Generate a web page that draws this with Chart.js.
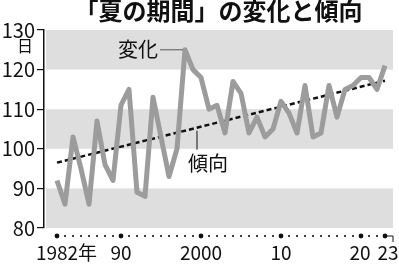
<!DOCTYPE html>
<html>
<head>
<meta charset="utf-8">
<script src="https://cdn.jsdelivr.net/npm/chart.js@4"></script>
<style>
  body { margin: 0; background: #fff; }
  #wrap { width: 399px; height: 264px; position: relative; }
</style>
</head>
<body>
<div id="wrap"><canvas id="summerChart"></canvas></div>
<script>
// 「夏の期間」の変化と傾向 (days)
const years = [1982, 1983, 1984, 1985, 1986, 1987, 1988, 1989, 1990, 1991,
  1992, 1993, 1994, 1995, 1996, 1997, 1998, 1999, 2000, 2001,
  2002, 2003, 2004, 2005, 2006, 2007, 2008, 2009, 2010, 2011,
  2012, 2013, 2014, 2015, 2016, 2017, 2018, 2019, 2020, 2021,
  2022, 2023];
const summerDays = [92, 86, 103, 95, 86, 107, 96, 92, 111, 115,
  89, 88, 113, 103, 93, 100, 125, 120, 118, 110,
  111, 104, 117, 114, 104, 108, 103, 105, 112, 109,
  104, 116, 103, 104, 116, 108, 115, 116, 118, 118,
  115, 121];

// trend line end points
const trendYears = [1982, 2023];
const trendDays = [96.5, 117.2];

const xTickYears = [1982, 1990, 2000, 2010, 2020, 2023];
const xTickLabels = ['1982', '90', '2000', '10', '20', '23'];
const xTickSuffix = ['年', '', '', '', '', ''];
const bandRanges = [[80, 90], [100, 110], [120, 130]];

const FONT = "'Noto Sans CJK JP', 'Noto Sans', sans-serif";

const decor = {
  id: 'decor',
  beforeDraw(chart) {
    const { ctx, chartArea, scales: { y } } = chart;
    ctx.save();
    ctx.fillStyle = '#dedede';
    bandRanges.forEach(r => {
      const top = y.getPixelForValue(r[1]);
      const bot = y.getPixelForValue(r[0]);
      ctx.fillRect(chartArea.left + 2, top, chartArea.right - chartArea.left - 2, bot - top);
    });
    ctx.restore();
  },
  afterDraw(chart) {
    const { ctx, chartArea, scales: { x, y } } = chart;
    ctx.save();

    // title
    ctx.fillStyle = '#111';
    ctx.font = 'bold 24px ' + FONT;
    ctx.textAlign = 'center';
    ctx.textBaseline = 'middle';
    ctx.fillText('「夏の期間」の変化と傾向', (chartArea.left + chartArea.right) / 2, 11);

    // unit
    ctx.font = '16px ' + FONT;
    ctx.textAlign = 'right';
    ctx.fillText('日', 33, 46);

    // dotted x axis
    const dotY = chartArea.bottom + 8;
    years.forEach(yr => {
      const px = x.getPixelForValue(yr);
      ctx.beginPath();
      ctx.arc(px, dotY, xTickYears.includes(yr) ? 2.4 : 1.1, 0, Math.PI * 2);
      ctx.fill();
    });
    const lastX = x.getPixelForValue(years[years.length - 1]);
    ctx.strokeStyle = '#111';
    ctx.lineWidth = 1;
    ctx.beginPath();
    ctx.moveTo(lastX + 2, dotY);
    ctx.lineTo(lastX + 8, dotY);
    ctx.lineTo(lastX + 8, dotY + 6);
    ctx.stroke();

    // x labels (last one sits under the small bracket)
    ctx.font = '19px ' + FONT;
    ctx.textBaseline = 'middle';
    xTickYears.forEach((yr, i) => {
      let px = x.getPixelForValue(yr);
      if (i === xTickYears.length - 1) px += 3;
      if (i === xTickYears.length - 2) px -= 1;
      const w = ctx.measureText(xTickLabels[i]).width;
      ctx.textAlign = 'center';
      ctx.fillText(xTickLabels[i], px, chartArea.bottom + 25);
      if (xTickSuffix[i]) {
        ctx.textAlign = 'left';
        ctx.fillText(xTickSuffix[i], px + w / 2, chartArea.bottom + 25);
      }
    });

    // 変化 label
    let peak = 0;
    summerDays.forEach((v, i) => { if (v > summerDays[peak]) peak = i; });
    const px = x.getPixelForValue(years[peak]);
    const py = y.getPixelForValue(summerDays[peak]);
    ctx.strokeStyle = '#555';
    ctx.beginPath();
    ctx.moveTo(px - 25, py);
    ctx.lineTo(px - 2, py);
    ctx.stroke();
    ctx.font = '20px ' + FONT;
    ctx.textAlign = 'right';
    ctx.fillText('変化', px - 27, py);

    // 傾向 label
    const ly = 1999.5;
    const tv = trendDays[0] + (trendDays[1] - trendDays[0]) * (ly - trendYears[0]) / (trendYears[1] - trendYears[0]);
    const lx = x.getPixelForValue(ly);
    const ty = y.getPixelForValue(tv);
    ctx.strokeStyle = '#111';
    ctx.beginPath();
    ctx.moveTo(lx, ty + 3);
    ctx.lineTo(lx, ty + 22);
    ctx.stroke();
    ctx.textAlign = 'left';
    ctx.fillText('傾向', lx - 9, ty + 36);

    ctx.restore();
  }
};

new Chart(document.getElementById('summerChart'), {
  type: 'line',
  data: {
    datasets: [{
      label: '変化',
      data: years.map((yr, i) => ({ x: yr, y: summerDays[i] })),
      borderColor: '#9c9c9c',
      borderWidth: 5,
      borderJoinStyle: 'round',
      pointRadius: 0,
      tension: 0
    }, {
      label: '傾向',
      data: trendYears.map((yr, i) => ({ x: yr, y: trendDays[i] })),
      borderColor: '#111',
      borderWidth: 2.5,
      borderDash: [5, 3],
      pointRadius: 0,
      tension: 0
    }]
  },
  options: {
    responsive: true,
    maintainAspectRatio: false,
    animation: false,
    layout: { padding: { top: 30, right: 6, left: 0, bottom: 0 } },
    plugins: {
      legend: { display: false },
      tooltip: { enabled: false }
    },
    scales: {
      x: {
        type: 'linear',
        min: 1980.375,
        max: 2024,
        ticks: { display: false },
        grid: { display: false },
        border: { display: false },
        afterFit(scale) { scale.height = 36; }
      },
      y: {
        min: 80,
        max: 130,
        ticks: {
          stepSize: 10,
          color: '#111',
          padding: 2,
          font: { family: FONT, size: 20 }
        },
        grid: {
          drawOnChartArea: false,
          drawTicks: true,
          tickLength: 7,
          color: '#111',
          lineWidth: 1.2
        },
        border: { display: true, color: '#111', width: 1.5 },
        afterFit(scale) { scale.width = 44; }
      }
    }
  },
  plugins: [decor]
});
</script>
</body>
</html>
